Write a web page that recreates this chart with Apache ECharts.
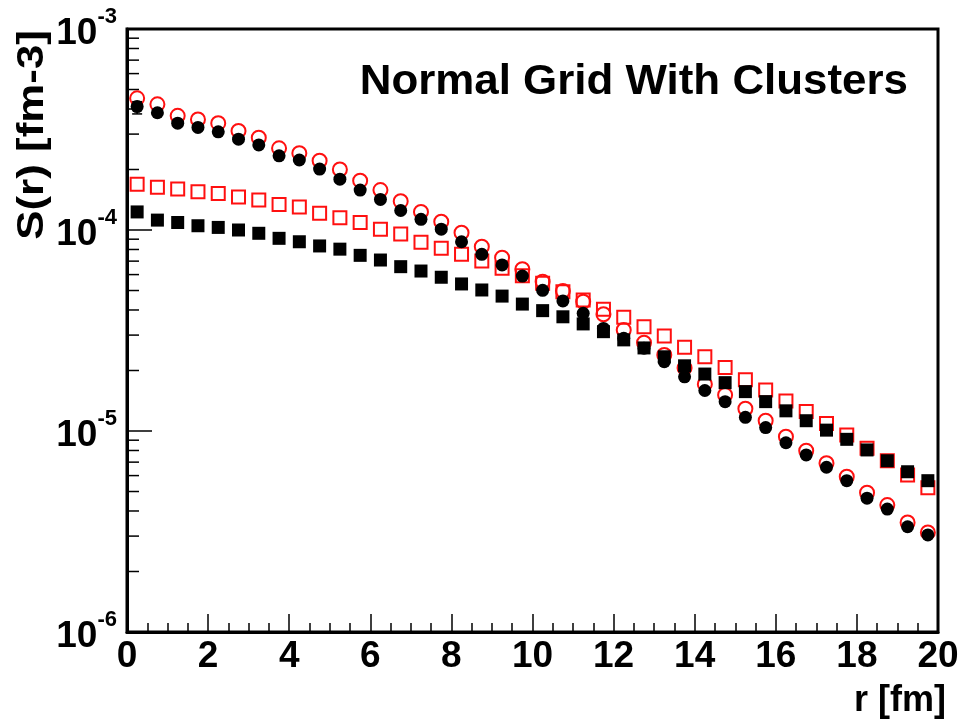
<!DOCTYPE html>
<html>
<head>
<meta charset="utf-8">
<script src="https://cdn.jsdelivr.net/npm/echarts@6/dist/echarts.min.js"></script>
<style>
  html, body { margin: 0; padding: 0; background: #fff; }
  #chart { width: 962px; height: 723px; }
</style>
</head>
<body>
<div id="chart"></div>
<script>
// bin centres r [fm]
const r = [0.25, 0.75, 1.25, 1.75, 2.25, 2.75, 3.25, 3.75, 4.25, 4.75,
  5.25, 5.75, 6.25, 6.75, 7.25, 7.75, 8.25, 8.75, 9.25, 9.75,
  10.25, 10.75, 11.25, 11.75, 12.25, 12.75, 13.25, 13.75, 14.25, 14.75,
  15.25, 15.75, 16.25, 16.75, 17.25, 17.75, 18.25, 18.75, 19.25, 19.75];

// red open circles
const openCircles = [4.52e-4, 4.22e-4, 3.70e-4, 3.55e-4, 3.40e-4, 3.11e-4, 2.88e-4, 2.55e-4, 2.41e-4, 2.21e-4,
  2.00e-4, 1.76e-4, 1.58e-4, 1.39e-4, 1.23e-4, 1.10e-4, 9.70e-5, 8.26e-5, 7.28e-5, 6.38e-5,
  5.53e-5, 4.97e-5, 4.40e-5, 3.81e-5, 3.18e-5, 2.75e-5, 2.39e-5, 2.06e-5, 1.71e-5, 1.51e-5,
  1.29e-5, 1.125e-5, 9.37e-6, 7.98e-6, 6.91e-6, 5.92e-6, 4.93e-6, 4.28e-6, 3.51e-6, 3.13e-6];

// black full circles
const fullCircles = [4.11e-4, 3.83e-4, 3.40e-4, 3.24e-4, 3.08e-4, 2.83e-4, 2.65e-4, 2.34e-4, 2.23e-4, 2.01e-4,
  1.79e-4, 1.58e-4, 1.42e-4, 1.25e-4, 1.13e-4, 1.01e-4, 8.74e-5, 7.57e-5, 6.70e-5, 5.90e-5,
  5.01e-5, 4.44e-5, 3.85e-5, 3.24e-5, 2.89e-5, 2.58e-5, 2.21e-5, 1.86e-5, 1.59e-5, 1.40e-5,
  1.17e-5, 1.04e-5, 8.74e-6, 7.60e-6, 6.60e-6, 5.66e-6, 4.63e-6, 4.09e-6, 3.34e-6, 3.04e-6];

// red open squares
const openSquares = [1.69e-4, 1.63e-4, 1.60e-4, 1.55e-4, 1.52e-4, 1.46e-4, 1.41e-4, 1.34e-4, 1.30e-4, 1.21e-4,
  1.15e-4, 1.09e-4, 1.01e-4, 9.55e-5, 8.68e-5, 8.11e-5, 7.57e-5, 7.01e-5, 6.45e-5, 5.92e-5,
  5.43e-5, 4.93e-5, 4.48e-5, 4.03e-5, 3.68e-5, 3.30e-5, 2.97e-5, 2.61e-5, 2.34e-5, 2.07e-5,
  1.80e-5, 1.60e-5, 1.41e-5, 1.25e-5, 1.09e-5, 9.55e-6, 8.20e-6, 7.11e-6, 6.04e-6, 5.22e-6];

// black full squares
const fullSquares = [1.23e-4, 1.12e-4, 1.09e-4, 1.05e-4, 1.03e-4, 1.00e-4, 9.63e-5, 9.09e-5, 8.74e-5, 8.33e-5,
  8.03e-5, 7.48e-5, 7.09e-5, 6.57e-5, 6.25e-5, 5.82e-5, 5.39e-5, 5.03e-5, 4.69e-5, 4.28e-5,
  3.97e-5, 3.70e-5, 3.41e-5, 3.12e-5, 2.84e-5, 2.59e-5, 2.34e-5, 2.11e-5, 1.92e-5, 1.74e-5,
  1.57e-5, 1.40e-5, 1.26e-5, 1.125e-5, 1.01e-5, 9.09e-6, 8.05e-6, 7.11e-6, 6.27e-6, 5.66e-6];

// error bar on first full circle [r, low, high]
const errBars = [[0.25, 3.78e-4, 4.35e-4]];

const yDecades = [1e-6, 1e-5, 1e-4, 1e-3];
const xTicks = [0, 2, 4, 6, 8, 10, 12, 14, 16, 18, 20];

// log minor ticks 2..9 in each decade
let minorTicks = [];
for (let i = 0; i < yDecades.length - 1; i++) {
  for (let m = 2; m <= 9; m++) minorTicks.push([0, m * yDecades[i]]);
}

const font = "Liberation Sans";
const red = "#ff1010";
const pts = arr => r.map((x, i) => [x, arr[i]]);

let chart = echarts.init(document.getElementById("chart"));
chart.setOption({
  animation: false,
  grid: {
    left: 127, right: 24, top: 29, bottom: 91,
    show: true, borderColor: "#000", borderWidth: 3,
    backgroundColor: "transparent",
  },
  xAxis: {
    type: "value",
    min: xTicks[0], max: xTicks[xTicks.length - 1], interval: 2,
    name: "r [fm]",
    nameLocation: "end",
    nameGap: 8,
    nameTextStyle: {
      fontFamily: font, fontWeight: "bold", fontSize: 36, color: "#000",
      align: "right", verticalAlign: "top", padding: [51, 0, 0, 0],
    },
    axisLine: { lineStyle: { color: "#000", width: 3 } },
    axisTick: { inside: true, length: 18, lineStyle: { color: "#000", width: 1.5 } },
    minorTick: { show: true, splitNumber: 4, length: 9, lineStyle: { color: "#000", width: 1.5 } },
    axisLabel: {
      margin: 6, color: "#000", fontFamily: font, fontWeight: "bold", fontSize: 37,
      showMinLabel: true, showMaxLabel: true,
    },
    splitLine: { show: false },
  },
  yAxis: {
    type: "log", logBase: 10,
    min: yDecades[0], max: yDecades[yDecades.length - 1],
    axisLine: { show: true, lineStyle: { color: "#000", width: 3 } },
    axisTick: { show: true, inside: true, length: 25, lineStyle: { color: "#000", width: 1.5 } },
    axisLabel: {
      margin: 10,
      formatter: v => "{m|10}{e|" + Math.round(Math.log10(v)) + "}",
      rich: {
        m: { fontFamily: font, fontWeight: "bold", fontSize: 37, color: "#000", lineHeight: 46, verticalAlign: "bottom" },
        e: { fontFamily: font, fontWeight: "bold", fontSize: 22, color: "#000", lineHeight: 46, verticalAlign: "top" },
      },
    },
    splitLine: { show: false },
  },
  graphic: [
    {
      type: "text", x: 908, y: 82, scaleX: 1.045,
      style: {
        text: "Normal Grid With Clusters", fontFamily: font, fontWeight: "bold", fontSize: 42, fill: "#000",
        align: "right", verticalAlign: "middle",
      },
    },
    {
      type: "text", x: 33, y: 30, rotation: Math.PI / 2, scaleX: 1.22,
      style: {
        text: "S(r) [fm-3]", fontFamily: font, fontWeight: "bold", fontSize: 36, fill: "#000",
        align: "right", verticalAlign: "middle",
      },
    },
  ],
  series: [
    {
      type: "custom", silent: true, clip: false, data: minorTicks,
      renderItem: (params, api) => {
        const p = api.coord([api.value(0), api.value(1)]);
        return { type: "line", shape: { x1: p[0], y1: p[1], x2: p[0] + 12, y2: p[1] }, style: { stroke: "#000", lineWidth: 1.5 } };
      },
    },
    {
      type: "scatter", data: pts(openSquares), symbol: "rect", symbolSize: 13,
      itemStyle: { color: "rgba(255,255,255,0)", borderColor: red, borderWidth: 2, opacity: 1 },
    },
    {
      type: "scatter", data: pts(openCircles), symbol: "circle", symbolSize: 14,
      itemStyle: { color: "rgba(255,255,255,0)", borderColor: red, borderWidth: 2, opacity: 1 },
    },
    {
      type: "scatter", data: pts(fullSquares), symbol: "rect", symbolSize: 13,
      itemStyle: { color: "#000", opacity: 1 },
    },
    {
      type: "scatter", data: pts(fullCircles), symbol: "circle", symbolSize: 13,
      itemStyle: { color: "#000", opacity: 1 },
    },
    {
      type: "custom", silent: true, data: errBars,
      renderItem: (params, api) => {
        const lo = api.coord([api.value(0), api.value(1)]);
        const hi = api.coord([api.value(0), api.value(2)]);
        const s = { stroke: "#000", lineWidth: 1.5 };
        return {
          type: "group", children: [
            { type: "line", shape: { x1: lo[0], y1: lo[1], x2: hi[0], y2: hi[1] }, style: s },
            { type: "line", shape: { x1: lo[0] - 5, y1: lo[1], x2: lo[0] + 5, y2: lo[1] }, style: s },
            { type: "line", shape: { x1: hi[0] - 5, y1: hi[1], x2: hi[0] + 5, y2: hi[1] }, style: s },
          ],
        };
      },
    },
  ],
});
</script>
</body>
</html>
